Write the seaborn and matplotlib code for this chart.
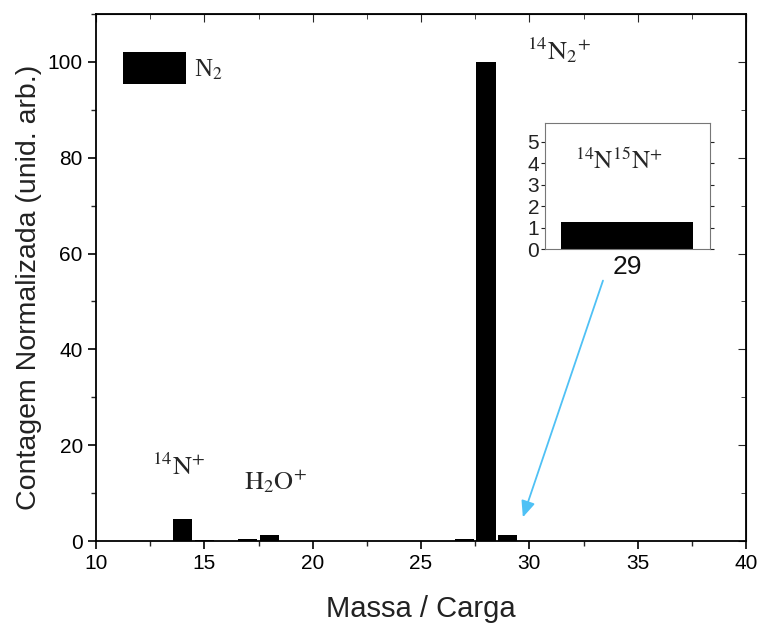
import matplotlib
matplotlib.use("Agg")
import matplotlib.pyplot as plt
import seaborn as sns
import pandas as pd

mass = [14, 15, 17, 18, 27, 28, 29]
counts = [4.6, 0.3, 0.35, 1.25, 0.35, 100.0, 1.3]
inset_cat = ["29"]
inset_val = [1.25]

sns.set_style("ticks")
plt.rcParams['font.family'] = ['Liberation Sans', 'DejaVu Sans']
plt.rcParams['mathtext.fontset'] = 'stix'

fig = plt.figure(figsize=(7.62, 6.23), dpi=100)
ax = fig.add_axes([0.126, 0.1316, 0.853, 0.846])

df = pd.DataFrame({"m": mass, "c": counts})
sns.barplot(data=df, x="m", y="c", native_scale=True, width=0.88, color="black",
            saturation=1, ax=ax, label="N$_2$", edgecolor="black", linewidth=0)

ax.set_xlim(10, 40)
ax.set_ylim(0, 110)
ax.set_xticks([10, 15, 20, 25, 30, 35, 40])
ax.set_yticks([0, 20, 40, 60, 80, 100])
ax.set_xticks([12.5, 17.5, 22.5, 27.5, 32.5, 37.5], minor=True)
ax.set_yticks([10, 30, 50, 70, 90, 110], minor=True)
ax.tick_params(axis='both', which='major', direction='out', length=6, width=1.2,
               labelsize=15, colors='black')
ax.tick_params(axis='both', which='minor', direction='out', length=3.5, width=1)
for s in ax.spines.values():
    s.set_linewidth(1.3)
    s.set_color('black')
ax.set_xlabel("Massa / Carga", fontsize=21, color='#222222')
ax.set_ylabel("Contagem Normalizada (unid. arb.)", fontsize=20.5, color='#222222')
ax.xaxis.set_label_coords(0.5, -0.103)
ax.yaxis.set_label_coords(-0.083, 0.482)

# mirrored ticks on top/right
axt = ax.secondary_xaxis('top')
axt.set_xticks([10, 15, 20, 25, 30, 35, 40])
axt.set_xticks([12.5, 17.5, 22.5, 27.5, 32.5, 37.5], minor=True)
axt.tick_params(which='major', direction='in', length=6, labeltop=False)
axt.tick_params(which='minor', direction='in', length=3.5)
axr = ax.secondary_yaxis('right')
axr.set_yticks([0, 20, 40, 60, 80, 100])
axr.set_yticks([10, 30, 50, 70, 90, 110], minor=True)
axr.tick_params(which='major', direction='in', length=6, labelright=False)
axr.tick_params(which='minor', direction='in', length=3.5)

leg = ax.legend(loc='upper left', bbox_to_anchor=(0.007, 0.97), frameon=False,
                handlelength=2.5, handleheight=1.6, handletextpad=0.35,
                prop={'family': 'Liberation Serif', 'size': 18})

ax.text(29.9, 102.5, r"$^{14}\mathrm{N}_2{}^{+}$", ha='left', va='center', fontsize=19)
ax.text(13.8, 15.5, r"$^{14}\mathrm{N}^{+}$", ha='center', va='center', fontsize=19)
ax.text(18.3, 12.5, r"$\mathrm{H}_2\mathrm{O}^{+}$", ha='center', va='center', fontsize=19)

ax.annotate("", xy=(29.66, 4.4), xytext=(33.44, 54.9),
            arrowprops=dict(arrowstyle='-|>,head_length=0.7,head_width=0.3',
                            color='#4fc1f5', lw=1.3, mutation_scale=14))

# inset
axi = fig.add_axes([0.715, 0.600, 0.2165, 0.2022])
dfi = pd.DataFrame({"k": inset_cat, "v": inset_val})
sns.barplot(data=dfi, x="k", y="v", color="black", saturation=1, width=0.8,
            ax=axi, edgecolor="black", linewidth=0)
axi.set_xlim(-0.5, 0.5)
axi.set_ylim(0, 5.85)
axi.set_yticks([0, 1, 2, 3, 4, 5])
axi.set_xlabel("")
axi.set_ylabel("")
axi.tick_params(axis='y', direction='out', length=3, labelsize=15, pad=1,
                colors='#222222')
axi.tick_params(axis='x', length=0, labelsize=19, pad=4, colors='#111111')
axi.tick_params(axis='y', which='both', right=True, labelright=False)
for s in axi.spines.values():
    s.set_linewidth(0.8)
    s.set_color('#777777')
axi.text(-0.05, 4.1, r"$^{14}\mathrm{N}^{15}\mathrm{N}^{+}$", ha='center', va='center',
         fontsize=18)

fig.savefig("out.png", dpi=100)
